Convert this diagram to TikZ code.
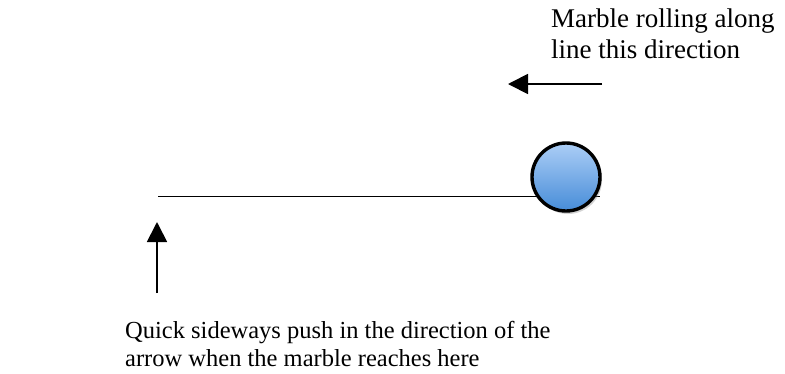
\documentclass[tikz,border=0pt]{standalone}
\usepackage{fontspec}
\setmainfont{Liberation Serif}
\usetikzlibrary{arrows.meta,shadows}

\begin{document}
\begin{tikzpicture}[x=1pt,y=-1pt]
\tikzset{marble/.style={draw, circle, line width=3.4pt, minimum size=68pt, inner sep=0pt,
    top color={rgb,255:red,172;green,206;blue,246}, bottom color={rgb,255:red,70;green,140;blue,216},
    drop shadow={opacity=0.35, shadow xshift=2pt, shadow yshift=-3pt}},
  pusharrow/.style={line width=1.8pt, -{Triangle[length=20pt,width=20pt]}},
  note/.style={align=left, anchor=north west, inner sep=0pt}}
\useasboundingbox (0,0) rectangle (785,373);
\coordinate (S) at (158,196);
\coordinate (E) at (600,196);
\draw[line width=0.8pt] (S) -- (E);
\node[marble] (M) at (566,177) {};
\coordinate (R1) at (602,84);
\coordinate (R2) at (508,84);
\draw[pusharrow] (R1) -- (R2);
\coordinate (P1) at (157,293);
\coordinate (P2) at (157,222);
\draw[pusharrow] (P1) -- (P2);
\node[note, font=\fontsize{27}{30.5}\selectfont] (T1) at (551,9) {Marble rolling along\\line this direction};
\node[note, font=\fontsize{24.5}{28.5}\selectfont] (T2) at (125,321) {Quick sideways push in the direction of the\\arrow when the marble reaches here};
\end{tikzpicture}
\end{document}
